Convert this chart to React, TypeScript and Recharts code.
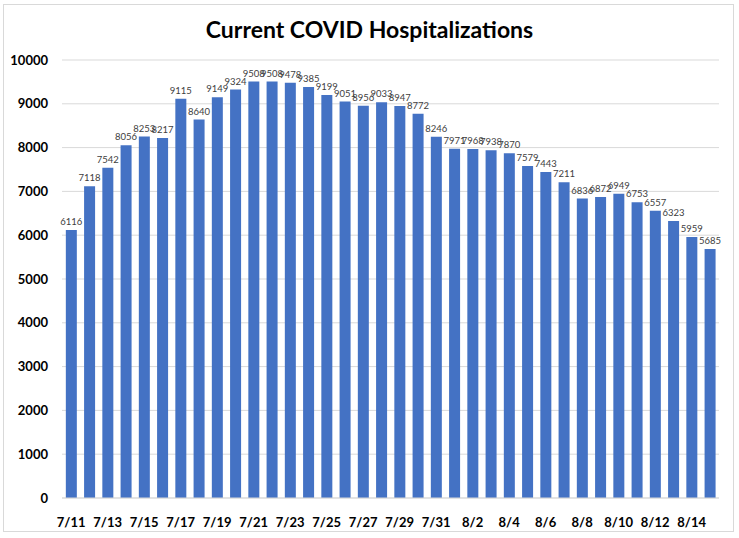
import React from "react";
import { BarChart, Bar, XAxis, YAxis, CartesianGrid, LabelList } from "recharts";

const dates = [
  "7/11", "7/12", "7/13", "7/14", "7/15", "7/16", "7/17", "7/18", "7/19", "7/20",
  "7/21", "7/22", "7/23", "7/24", "7/25", "7/26", "7/27", "7/28", "7/29", "7/30",
  "7/31", "8/1", "8/2", "8/3", "8/4", "8/5", "8/6", "8/7", "8/8", "8/9",
  "8/10", "8/11", "8/12", "8/13", "8/14", "8/15",
];

const hospitalizations = [
  6116, 7118, 7542, 8056, 8253, 8217, 9115, 8640, 9149, 9324,
  9508, 9508, 9478, 9385, 9199, 9051, 8956, 9033, 8947, 8772,
  8246, 7971, 7968, 7938, 7870, 7579, 7443, 7211, 6836, 6872,
  6949, 6753, 6557, 6323, 5959, 5685,
];

const yTicks = [0, 1000, 2000, 3000, 4000, 5000, 6000, 7000, 8000, 9000, 10000];

const title = "Current COVID Hospitalizations";

const data = dates.map((d, i) => ({ date: d, value: hospitalizations[i] }));

export default function App() {
  return (
    <div style={{ position: "absolute", left: 0, top: 0, width: 739, height: 538, background: "#fff", fontFamily: "Lato, 'Open Sans', sans-serif" }}>
      <div style={{ position: "absolute", left: 3, top: 4, width: 729, height: 526, border: "1px solid #d9d9d9" }} />
      <div style={{ position: "absolute", left: 0, top: 15, width: 739, textAlign: "center", fontSize: 23, fontWeight: 700, color: "#000" }}>
        {title}
      </div>
      <BarChart
        width={739}
        height={538}
        data={data}
        margin={{ top: 60, right: 20, bottom: 10, left: 0 }}
        barCategoryGap="21%"
      >
        <CartesianGrid vertical={false} stroke="#d9d9d9" />
        <XAxis
          dataKey="date"
          interval={1}
          height={30}
          tickLine={false}
          axisLine={{ stroke: "#d9d9d9" }}
          tick={{ fill: "#000", fontSize: 13, fontWeight: 700, fontFamily: "Lato, sans-serif" }}
          tickMargin={14}
        />
        <YAxis
          width={62}
          domain={[0, 10000]}
          ticks={yTicks}
          axisLine={false}
          tickLine={false}
          tickMargin={8}
          tick={{ fill: "#000", fontSize: 13, fontWeight: 700, fontFamily: "Lato, sans-serif" }}
        />
        <Bar dataKey="value" fill="#4472C4" isAnimationActive={false}>
          <LabelList dataKey="value" position="top" offset={5} style={{ fill: "#404040", fontSize: 9.5, fontFamily: "Lato, sans-serif" }} />
        </Bar>
      </BarChart>
    </div>
  );
}
